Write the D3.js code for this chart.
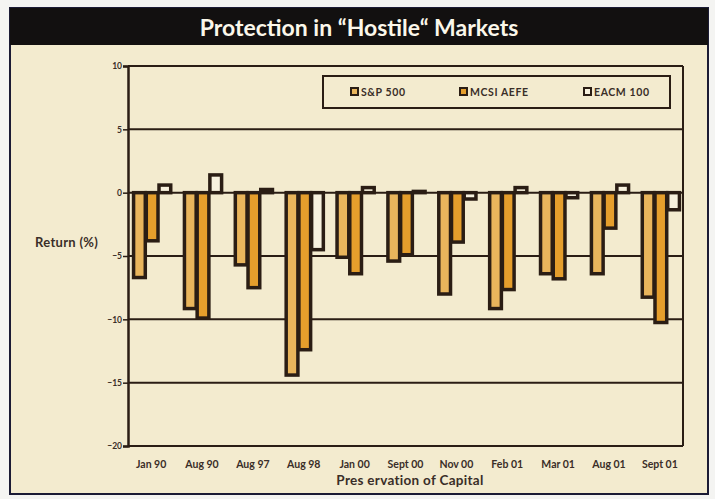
<!DOCTYPE html>
<html><head><meta charset="utf-8">
<script src="https://cdn.jsdelivr.net/npm/d3@7"></script>
<style>body{margin:0;background:#f4f4f2;}svg{display:block;}</style>
</head><body>
<svg id="c" width="715" height="499"></svg>
<script>
const categories = ["Jan 90","Aug 90","Aug 97","Aug 98","Jan 00","Sept 00","Nov 00","Feb 01","Mar 01","Aug 01","Sept 01"];
const seriesNames = ["S&P 500","MCSI AEFE","EACM 100"];
const sp500 = [-6.7,-9.15,-5.7,-14.4,-5.1,-5.4,-8.0,-9.15,-6.4,-6.4,-8.25];
const mcsi  = [-3.8,-9.9,-7.5,-12.4,-6.4,-4.9,-3.9,-7.65,-6.8,-2.8,-10.25];
const eacm  = [0.6,1.4,0.25,-4.5,0.4,0.1,-0.5,0.4,-0.4,0.6,-1.35];
const yTicks = [10,5,0,-5,-10,-15,-20];
const fills = ["#e9b55c","#e59e2c","#f7f1de"];
const font = "Lato, 'Open Sans', sans-serif";
const txt = "#3a2e28";

const svg = d3.select("#c");
// panel
svg.append("rect").attr("x",10).attr("y",8).attr("width",698).attr("height",486)
  .attr("fill","#f3ebcf").attr("stroke","#1b1b35").attr("stroke-width",2);
svg.append("rect").attr("x",10).attr("y",8).attr("width",698).attr("height",37).attr("fill","#121010");
svg.append("text").attr("x",359).attr("y",36).attr("text-anchor","middle")
  .attr("fill","#fbf7ea").attr("font-family",font).attr("font-weight","bold").attr("font-size",23)
  .text("Protection in \u201CHostile\u201C Markets");

const L=128,R=683,T=66,B=446;
const x = d3.scaleBand().domain(categories).range([L,R]).paddingInner(0.25).paddingOuter(0.08);
const xs = d3.scaleBand().domain(seriesNames).range([0,x.bandwidth()]);
const y = d3.scaleLinear().domain([-20,10]).range([B,T]);
const ink="#2a1d14";

const g = svg.append("g");
g.selectAll("line.grid").data(yTicks).join("line")
  .attr("x1",L).attr("x2",R).attr("y1",d=>y(d)).attr("y2",d=>y(d))
  .attr("stroke",ink).attr("stroke-width",2);
g.append("line").attr("x1",R).attr("x2",R).attr("y1",T).attr("y2",B).attr("stroke",ink).attr("stroke-width",2);

const yAxis = d3.axisLeft(y).tickValues(yTicks).tickSize(5).tickFormat(d3.format("d"));
const ya = svg.append("g").attr("transform",`translate(${L},0)`).call(yAxis);
ya.select(".domain").attr("stroke",ink).attr("stroke-width",2.5);
ya.selectAll(".tick line").attr("stroke",ink).attr("stroke-width",1.5);
ya.selectAll(".tick text").attr("fill",txt).attr("font-family",font).attr("font-weight","bold").attr("font-size",8.5).attr("x",-6);

const data = categories.map((c,i)=>({c, vals:[sp500[i],mcsi[i],eacm[i]]}));
const grp = svg.append("g").selectAll("g").data(data).join("g").attr("transform",d=>`translate(${x(d.c)},0)`);
grp.selectAll("rect").data(d=>d.vals.map((v,j)=>({v,s:seriesNames[j],j}))).join("rect")
  .attr("x",d=>xs(d.s)+1.5).attr("width",xs.bandwidth()-1)
  .attr("y",d=>Math.min(y(d.v),y(0))).attr("height",d=>Math.abs(y(d.v)-y(0)))
  .attr("fill",d=>fills[d.j]).attr("stroke",ink).attr("stroke-width",3.5);

const xa = svg.append("g").attr("transform",`translate(0,${B})`).call(d3.axisBottom(x).tickSize(0));
xa.select(".domain").remove();
xa.selectAll(".tick text").attr("dy",0).attr("y",22).attr("fill",txt).attr("font-family",font).attr("font-weight","bold").attr("font-size",10.5);

svg.append("text").attr("x",410).attr("y",485).attr("text-anchor","middle").attr("fill",txt)
  .attr("font-family",font).attr("font-weight","bold").attr("font-size",13.5).attr("letter-spacing",0.3).text("Pres ervation of Capital");
svg.append("text").attr("x",35).attr("y",247).attr("fill",txt)
  .attr("font-family",font).attr("font-weight","bold").attr("font-size",13).attr("letter-spacing",0.3).text("Return (%)");

const lg = svg.append("g");
lg.append("rect").attr("x",323).attr("y",76).attr("width",347).attr("height",32)
  .attr("fill","#f3ebcf").attr("stroke",ink).attr("stroke-width",2);
const lx=[351,460,584];
seriesNames.forEach((s,i)=>{
  lg.append("rect").attr("x",lx[i]).attr("y",88).attr("width",7).attr("height",7)
    .attr("fill",fills[i]).attr("stroke",ink).attr("stroke-width",2);
  lg.append("text").attr("x",lx[i]+10).attr("y",96).attr("fill",txt)
    .attr("font-family",font).attr("font-weight","bold").attr("font-size",10.5).attr("letter-spacing",0.6).text(s);
});
</script>
</body></html>
